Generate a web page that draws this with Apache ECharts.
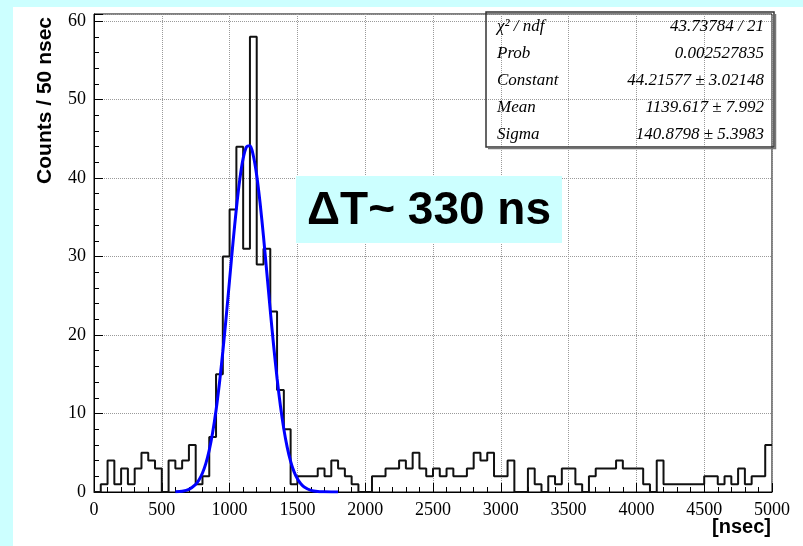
<!DOCTYPE html>
<html>
<head>
<meta charset="utf-8">
<script src="https://cdn.jsdelivr.net/npm/echarts@6/dist/echarts.min.js"></script>
<style>
  html, body { margin: 0; padding: 0; background: #ccffff; }
  #chart { width: 803px; height: 546px; }
</style>
</head>
<body>
<div id="chart"></div>
<script>
// histogram: 100 bins of 50 nsec from 0 to 5000
const binWidth = 50
const binCounts = [
  0, 1, 4, 1, 3, 1, 3, 5, 4, 3,
  0, 4, 3, 4, 6, 1, 2, 7, 15, 30,
  36, 44, 31, 58, 29, 31, 23, 13, 8, 1,
  2, 2, 2, 3, 2, 4, 3, 2, 1, 0,
  0, 2, 2, 3, 3, 4, 3, 5, 3, 2,
  3, 2, 3, 2, 2, 3, 5, 4, 5, 2,
  2, 4, 0, 0, 3, 1, 0, 2, 1, 3,
  3, 1, 0, 2, 3, 3, 3, 4, 3, 3,
  3, 1, 0, 4, 1, 1, 1, 1, 1, 1,
  2, 2, 1, 2, 1, 3, 1, 2, 2, 6
]
// gaus fit curve (600 - 1800 nsec)
const fitX = [600, 650, 700, 750, 775, 800, 825, 850, 875, 900, 925, 950, 975, 1000, 1025, 1050, 1075, 1100, 1125, 1150,
  1175, 1200, 1225, 1250, 1275, 1300, 1325, 1350, 1375, 1400, 1425, 1450, 1475, 1500, 1525, 1550, 1600, 1650, 1700, 1750, 1800]
const fitY = [0.03, 0.1, 0.34, 0.97, 1.55, 2.42, 3.65, 5.34, 7.58, 10.41, 13.86, 17.87, 22.34, 27.06, 31.76, 36.12, 39.8, 42.5, 43.98, 44.1,
  42.84, 40.33, 36.8, 32.53, 27.86, 23.12, 18.6, 14.49, 10.95, 8.01, 5.68, 3.9, 2.6, 1.68, 1.05, 0.64, 0.21, 0.06, 0.02, 0.0, 0.0]

const statLabels = ['χ² / ndf', 'Prob', 'Constant', 'Mean', 'Sigma']
const statValues = ['43.73784 / 21', '0.002527835', '44.21577 ± 3.02148', '1139.617 ± 7.992', '140.8798 ± 5.3983']

const serif = 'Liberation Serif'
const sans = 'Liberation Sans'

const chart = echarts.init(document.getElementById('chart'))

var histData = binCounts.map((c, i) => [i * binWidth, c])
histData.push([binCounts.length * binWidth, binCounts[binCounts.length - 1]])
var fitData = fitX.map((x, i) => [x, fitY[i]])

// stats box texts
var statGraphics = []
statLabels.forEach((lab, i) => {
  var y = 26 + i * 27
  statGraphics.push({
    type: 'text', left: 497, top: y - 8, z: 20,
    style: { text: lab, font: 'italic 17px ' + serif, fill: '#000' }
  })
  statGraphics.push({
    type: 'text', right: 803 - 764, top: y - 8, z: 20,
    style: { text: statValues[i], font: 'italic 17px ' + serif, fill: '#000' }
  })
})

chart.setOption({
  backgroundColor: '#ccffff',
  animation: false,
  grid: {
    left: 94,
    right: 31,
    top: 14,
    bottom: 54,
    show: true,
    backgroundColor: '#fff',
    borderColor: '#000',
    borderWidth: 1
  },
  xAxis: {
    type: 'value',
    min: 0,
    max: 5000,
    interval: 500,
    axisLine: { lineStyle: { color: '#000', width: 1 } },
    axisTick: { inside: true, length: 9, lineStyle: { color: '#000' } },
    minorTick: { show: true, splitNumber: 5, length: 5, lineStyle: { color: '#000' } },
    splitLine: { show: true, lineStyle: { color: '#9a9a9a', type: 'dotted', width: 1 } },
    axisLabel: {
      color: '#000', fontFamily: serif, fontSize: 18, margin: 9,
      formatter: function(v) {
        return String(v)
      }
    }
  },
  yAxis: {
    type: 'value',
    min: 0,
    max: 60.9,
    interval: 10,
    axisLine: { show: true, lineStyle: { color: '#000', width: 1 } },
    axisTick: { show: true, inside: true, length: 9, lineStyle: { color: '#000' } },
    minorTick: { show: true, splitNumber: 5, length: 5, lineStyle: { color: '#000' } },
    splitLine: { show: true, lineStyle: { color: '#9a9a9a', type: 'dotted', width: 1 } },
    axisLabel: {
      color: '#000', fontFamily: serif, fontSize: 18, margin: 8,
      formatter: function(v) {
        return v % 10 === 0 ? String(v) : ''
      }
    }
  },
  series: [
    {
      name: 'hist',
      type: 'line',
      step: 'end',
      data: histData,
      showSymbol: false,
      lineStyle: { color: '#111', width: 2 },
      z: 3
    },
    {
      name: 'gaus',
      type: 'line',
      smooth: 0.3,
      data: fitData,
      showSymbol: false,
      lineStyle: { color: '#0000ff', width: 3 },
      z: 4
    }
  ],
  graphic: [
    // white pad
    {
      type: 'rect', z: -10, silent: true,
      shape: { x: 13, y: 7, width: 790, height: 539 },
      style: { fill: '#fff' }
    },
    // stats box (transparent)
    {
      type: 'rect', z: 19,
      shape: { x: 486, y: 12, width: 288, height: 135 },
      style: { fill: null, stroke: '#333', lineWidth: 1.5 }
    },
    {
      type: 'polyline', z: 19,
      shape: { points: [[488, 148.5], [775.5, 148.5], [775.5, 14]] },
      style: { fill: null, stroke: '#777', lineWidth: 1.5 }
    },
    ...statGraphics,
    // annotation box
    {
      type: 'rect', z: 20,
      shape: { x: 296, y: 176, width: 266, height: 67 },
      style: { fill: '#ccffff' }
    },
    {
      type: 'text', z: 21,
      x: 429, y: 211,
      style: {
        text: 'ΔT~ 330 ns', font: 'bold 46px ' + sans, fill: '#000',
        align: 'center', verticalAlign: 'middle'
      }
    },
    // axis titles
    {
      type: 'text', z: 21,
      x: 45, y: 17, rotation: Math.PI / 2,
      style: {
        text: 'Counts / 50 nsec', font: 'bold 21px ' + sans, fill: '#000',
        align: 'right', verticalAlign: 'middle'
      }
    },
    {
      type: 'text', z: 21,
      x: 771, y: 527,
      style: {
        text: '[nsec]', font: 'bold 20px ' + sans, fill: '#000',
        align: 'right', verticalAlign: 'middle'
      }
    }
  ]
})
</script>
</body>
</html>
